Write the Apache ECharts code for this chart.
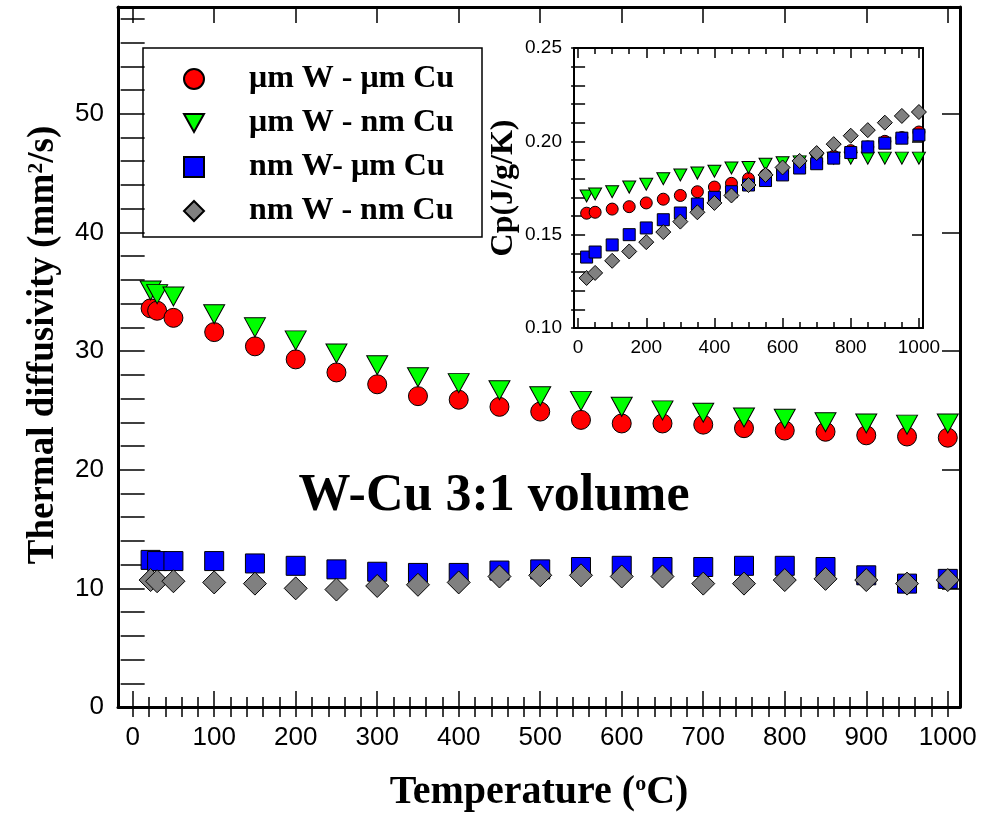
<!DOCTYPE html>
<html>
<head>
<meta charset="utf-8">
<script src="https://cdn.jsdelivr.net/npm/echarts@6/dist/echarts.min.js"></script>
<style>html,body{margin:0;padding:0;background:#fff;}#c{width:982px;height:818px;}</style>
</head>
<body>
<div id="c"></div>
<script>
// ---------- DATA ----------
const seriesNames = ['μm W - μm Cu', 'μm W - nm Cu', 'nm W- μm Cu', 'nm W - nm Cu'];

// main plot: thermal diffusivity (mm2/s) vs temperature (°C)
const tempsMain = [22, 30, 50, 100, 150, 200, 250, 300, 350, 400, 450, 500, 550, 600, 650, 700, 750, 800, 850, 900, 950, 1000];
const diffMicroWMicroCu = [33.6, 33.4, 32.8, 31.6, 30.4, 29.3, 28.2, 27.2, 26.2, 25.9, 25.3, 24.9, 24.2, 23.9, 23.9, 23.8, 23.5, 23.3, 23.2, 22.9, 22.8, 22.7];
const diffMicroWNanoCu  = [35.1, 34.8, 34.6, 33.1, 32.0, 30.9, 29.8, 28.8, 27.8, 27.3, 26.7, 26.2, 25.8, 25.3, 25.0, 24.8, 24.4, 24.3, 24.0, 23.9, 23.8, 23.9];
const diffNanoWMicroCu  = [12.4, 12.3, 12.3, 12.3, 12.1, 11.9, 11.6, 11.4, 11.3, 11.3, 11.5, 11.6, 11.8, 11.9, 11.8, 11.8, 11.9, 11.9, 11.8, 11.1, 10.4, 10.8];
const diffNanoWNanoCu   = [10.7, 10.6, 10.6, 10.5, 10.4, 10.0, 9.9, 10.2, 10.3, 10.5, 11.0, 11.1, 11.1, 11.0, 11.0, 10.4, 10.4, 10.7, 10.8, 10.7, 10.4, 10.7];

// inset: Cp (J/g/K) vs temperature
const tempsInset = [25, 50, 100, 150, 200, 250, 300, 350, 400, 450, 500, 550, 600, 650, 700, 750, 800, 850, 900, 950, 1000];
const cpMicroWMicroCu = [0.1615, 0.162, 0.1637, 0.165, 0.167, 0.169, 0.171, 0.173, 0.1755, 0.1775, 0.180, 0.182, 0.184, 0.186, 0.189, 0.192, 0.195, 0.197, 0.200, 0.202, 0.205];
const cpMicroWNanoCu  = [0.1707, 0.1718, 0.173, 0.1755, 0.177, 0.180, 0.182, 0.183, 0.184, 0.1857, 0.186, 0.1877, 0.1885, 0.189, 0.190, 0.191, 0.191, 0.191, 0.191, 0.191, 0.191];
const cpNanoWMicroCu  = [0.138, 0.1407, 0.1445, 0.150, 0.1536, 0.158, 0.1616, 0.1664, 0.170, 0.173, 0.1766, 0.179, 0.182, 0.1857, 0.188, 0.191, 0.194, 0.197, 0.199, 0.2017, 0.2034];
const cpNanoWNanoCu   = [0.1268, 0.1295, 0.136, 0.141, 0.146, 0.1514, 0.157, 0.162, 0.167, 0.171, 0.1766, 0.182, 0.186, 0.1895, 0.1937, 0.1985, 0.203, 0.206, 0.210, 0.2136, 0.2157];

// tick labels
const mainXTicks = [0, 100, 200, 300, 400, 500, 600, 700, 800, 900, 1000];
const mainYTicks = [0, 10, 20, 30, 40, 50];
const insetXTicks = [0, 200, 400, 600, 800, 1000];
const insetYTicks = [0.10, 0.15, 0.20, 0.25];

// ---------- BUILD ----------
function range(a, b, step) { const r = []; for (let v = a; v <= b + 1e-9; v += step) r.push(Math.round(v * 1000) / 1000); return r; }
const mainXMinor = range(0, 1000, 20);
const mainYMinor = range(0, 58, 2);
const insetXMinor = range(0, 1000, 50);
const insetYMinor = range(0.10, 0.25, 0.01);

const SANS = '"Liberation Sans", Arial, sans-serif';
const SERIF = '"Liberation Serif", "Times New Roman", serif';
const downTri = 'path://M0,0L20,0L10,18Z';

function pts(xs, ys) { return xs.map((x, i) => [x, ys[i]]); }

function axisSet(kind, grid, min, max, majors, minors, opt) {
  const side1 = kind === 'x' ? 'bottom' : 'left';
  const side2 = kind === 'x' ? 'top' : 'right';
  const base = { type: 'value', gridIndex: grid, min: min, max: max, splitLine: { show: false }, scale: true };
  const line = { show: true, onZero: false, lineStyle: { color: '#000', width: opt.lineW } };
  const noLine = { show: false };
  return [
    Object.assign({}, base, {
      position: side1, axisLine: line,
      axisTick: { show: true, inside: true, length: opt.majLen, customValues: majors, lineStyle: { color: '#000', width: 1.5 } },
      axisLabel: { show: true, customValues: majors, margin: opt.margin, color: '#000', fontFamily: SANS, fontSize: opt.fs, formatter: opt.fmt || (v => String(v)) },
      name: opt.name || '', nameLocation: 'middle', nameGap: opt.nameGap || 0, nameTextStyle: opt.nameStyle || {}
    }),
    Object.assign({}, base, {
      position: side1, axisLine: noLine,
      axisTick: { show: true, inside: true, length: opt.minLen, customValues: minors, lineStyle: { color: '#000', width: 1.5 } },
      axisLabel: { show: false }
    }),
    Object.assign({}, base, {
      position: side2, axisLine: line,
      axisTick: { show: true, inside: true, length: opt.majLen, customValues: majors, lineStyle: { color: '#000', width: 1.5 } },
      axisLabel: { show: false }
    }),
    Object.assign({}, base, {
      position: side2, axisLine: noLine,
      axisTick: { show: true, inside: true, length: opt.minLen, customValues: minors, lineStyle: { color: '#000', width: 1.5 } },
      axisLabel: { show: false }
    })
  ];
}

const supRich = {
  sup: { fontFamily: SERIF, fontWeight: 'bold', fontSize: 22, verticalAlign: 'top', padding: [0, 0, 14, 0], color: '#000' }
};

const xAxes = [].concat(
  axisSet('x', 0, -18, 1015, mainXTicks, mainXMinor, {
    lineW: 3, majLen: 16, minLen: 10, margin: 18, fs: 26,
    name: 'Temperature ({sup|o}C)', nameGap: 66,
    nameStyle: { fontFamily: SERIF, fontWeight: 'bold', fontSize: 40, color: '#000', rich: supRich }
  }),
  axisSet('x', 1, -12, 1012, insetXTicks, insetXMinor, {
    lineW: 2, majLen: 10, minLen: 6, margin: 10, fs: 19
  })
);
const yAxes = [].concat(
  axisSet('y', 0, 0, 59, mainYTicks, mainYMinor, {
    lineW: 3, majLen: 18, minLen: 12, margin: 14, fs: 26,
    name: 'Thermal diffusivity (mm{sup|2}/s)', nameGap: 56,
    nameStyle: { fontFamily: SERIF, fontWeight: 'bold', fontSize: 37, color: '#000', rich: supRich, padding: [0, 0, 0, 24] }
  }),
  axisSet('y', 1, 0.10, 0.25, insetYTicks, insetYMinor, {
    lineW: 2, majLen: 11, minLen: 7, margin: 12, fs: 19,
    fmt: v => v.toFixed(2),
    name: 'Cp(J/g/K)', nameGap: 54,
    nameStyle: { fontFamily: SERIF, fontWeight: 'bold', fontSize: 32, color: '#000' }
  })
);

const styles = [
  { symbol: 'circle', main: 19, inset: 12, color: '#ff0000' },
  { symbol: downTri, main: [21, 19], inset: [13, 12], color: '#00ff00' },
  { symbol: 'rect', main: 19, inset: 12, color: '#0000ff' },
  { symbol: 'diamond', main: 23, inset: 15, color: '#808080' }
];
const mainVals = [diffMicroWMicroCu, diffMicroWNanoCu, diffNanoWMicroCu, diffNanoWNanoCu];
const insetVals = [cpMicroWMicroCu, cpMicroWNanoCu, cpNanoWMicroCu, cpNanoWNanoCu];

const series = [];
styles.forEach((s, i) => {
  series.push({
    name: seriesNames[i], type: 'scatter', xAxisIndex: 0, yAxisIndex: 0,
    symbol: s.symbol, symbolSize: s.main,
    itemStyle: { color: s.color, borderColor: '#000', borderWidth: 1, opacity: 1 },
    data: pts(tempsMain, mainVals[i]), z: 3 + i
  });
});
styles.forEach((s, i) => {
  series.push({
    name: seriesNames[i], type: 'scatter', xAxisIndex: 4, yAxisIndex: 4,
    symbol: s.symbol, symbolSize: s.inset,
    itemStyle: { color: s.color, borderColor: '#000', borderWidth: 1, opacity: 1 },
    data: pts(tempsInset, insetVals[i]), z: 3 + i
  });
});

const option = {
  animation: false,
  backgroundColor: '#fff',
  grid: [
    { left: 118, top: 7, right: 22, bottom: 110 },
    { left: 574, top: 48, right: 59, bottom: 490 }
  ],
  xAxis: xAxes,
  yAxis: yAxes,
  legend: {
    orient: 'vertical', left: 183, top: 63, padding: 0,
    itemWidth: 20, itemHeight: 20, itemGap: 12,
    data: seriesNames,
    formatter: n => '{s|}' + n,
    textStyle: {
      fontFamily: SERIF, fontWeight: 'bold', fontSize: 32, color: '#000',
      rich: { s: { width: 40 } }
    },
    selectedMode: false
  },
  graphic: [
    { type: 'rect', shape: { x: 143, y: 48, width: 339, height: 189 }, style: { fill: 'none', stroke: '#000', lineWidth: 1.5 }, z: 1 },
    { type: 'text', x: 494, y: 497, style: { text: 'W-Cu 3:1 volume', font: 'bold 52px ' + SERIF, fill: '#000', textAlign: 'center', textVerticalAlign: 'middle' } }
  ],
  series: series
};
const chart = echarts.init(document.getElementById('c'));
chart.setOption(option);
</script>
</body>
</html>
